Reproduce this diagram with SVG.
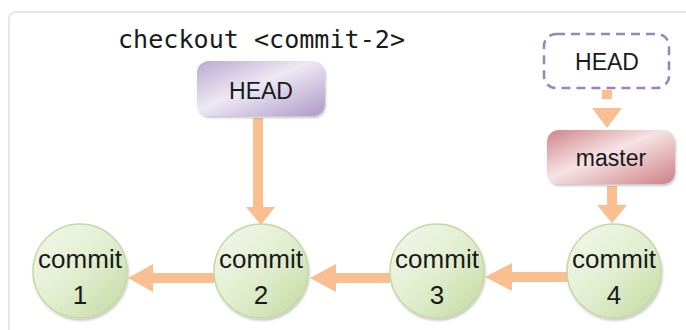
<svg xmlns="http://www.w3.org/2000/svg" width="686" height="330" viewBox="0 0 686 330">
  <defs>
    <linearGradient id="gCommit" x1="0" y1="0" x2="1" y2="1">
      <stop offset="0" stop-color="#f3f8ec"/>
      <stop offset="0.5" stop-color="#e2eed0"/>
      <stop offset="1" stop-color="#c2d9a0"/>
    </linearGradient>
    <linearGradient id="gHead" x1="0" y1="0" x2="1" y2="1">
      <stop offset="0" stop-color="#b9a9cf"/>
      <stop offset="0.45" stop-color="#ede8f4"/>
      <stop offset="1" stop-color="#ad98c8"/>
    </linearGradient>
    <linearGradient id="gMaster" x1="0" y1="0" x2="1" y2="1">
      <stop offset="0" stop-color="#cf8489"/>
      <stop offset="0.45" stop-color="#f6e3e4"/>
      <stop offset="1" stop-color="#cd7f85"/>
    </linearGradient>
    <filter id="shadow" x="-10%" y="-10%" width="130%" height="140%">
      <feDropShadow dx="1" dy="2" stdDeviation="1.2" flood-color="#000" flood-opacity="0.22"/>
    </filter>
  </defs>
  <style>
    .frame { fill: #ffffff; stroke: #e8e8e8; stroke-width: 2; }
    .cmd { font-family: "DejaVu Sans Mono", "Liberation Mono", monospace; font-size: 24px; fill: #1a1a1a; }
    .lbl { font-family: "Liberation Sans", Arial, sans-serif; fill: #1a1a1a; text-anchor: middle; }
    .box { font-size: 23px; }
    .cm { font-size: 26px; }
    .commit { fill: url(#gCommit); stroke: #c3d9a4; stroke-width: 1.5; }
    .arrow { fill: #f9bf90; }
  </style>

  <rect class="frame" x="9" y="12" width="700" height="340" rx="7"/>

  <text class="cmd" x="118" y="48" textLength="287" lengthAdjust="spacingAndGlyphs">checkout &lt;commit-2&gt;</text>

  <!-- connectors -->
  <g id="connectors">
    <!-- HEAD -> commit 2 -->
    <rect class="arrow" x="253" y="118" width="10" height="90"/>
    <polygon class="arrow" points="246,207 275,207 261,225"/>
    <!-- detached HEAD -> master -->
    <rect class="arrow" x="602" y="90" width="10" height="9"/>
    <polygon class="arrow" points="592,108 622,108 607,128"/>
    <!-- master -> commit 4 -->
    <rect class="arrow" x="607" y="186" width="10" height="20"/>
    <polygon class="arrow" points="597,205 627,205 612,223"/>
    <!-- commit 2 -> commit 1 -->
    <rect class="arrow" x="152" y="273" width="62" height="10"/>
    <polygon class="arrow" points="153,264 153,292 128,278"/>
    <!-- commit 3 -> commit 2 -->
    <rect class="arrow" x="335" y="273" width="55" height="10"/>
    <polygon class="arrow" points="336,264 336,292 310,278"/>
    <!-- commit 4 -> commit 3 -->
    <rect class="arrow" x="510" y="272" width="58" height="10"/>
    <polygon class="arrow" points="512,263 512,291 485,277"/>
  </g>

  <g id="head">
    <rect x="197" y="61" width="128" height="55" rx="12" fill="url(#gHead)" filter="url(#shadow)"/>
    <text class="lbl box" x="261" y="99">HEAD</text>
  </g>

  <g id="head-prev">
    <rect x="544" y="34" width="125" height="54" rx="12" fill="none" stroke="#9a84bd" stroke-width="2.5" stroke-dasharray="9 6"/>
    <text class="lbl box" x="607" y="70">HEAD</text>
  </g>

  <g id="master">
    <rect x="547" y="130" width="128" height="54" rx="12" fill="url(#gMaster)" filter="url(#shadow)"/>
    <text class="lbl box" x="611" y="166">master</text>
  </g>

  <g id="commit-1">
    <circle class="commit" cx="80" cy="271" r="47" filter="url(#shadow)"/>
    <text class="lbl cm" x="80" y="268">commit</text>
    <text class="lbl cm" x="80" y="304">1</text>
  </g>
  <g id="commit-2">
    <circle class="commit" cx="261" cy="271" r="47" filter="url(#shadow)"/>
    <text class="lbl cm" x="261" y="268">commit</text>
    <text class="lbl cm" x="261" y="304">2</text>
  </g>
  <g id="commit-3">
    <circle class="commit" cx="437" cy="271" r="47" filter="url(#shadow)"/>
    <text class="lbl cm" x="437" y="268">commit</text>
    <text class="lbl cm" x="437" y="304">3</text>
  </g>
  <g id="commit-4">
    <circle class="commit" cx="614" cy="271" r="47" filter="url(#shadow)"/>
    <text class="lbl cm" x="614" y="268">commit</text>
    <text class="lbl cm" x="614" y="304">4</text>
  </g>
</svg>
